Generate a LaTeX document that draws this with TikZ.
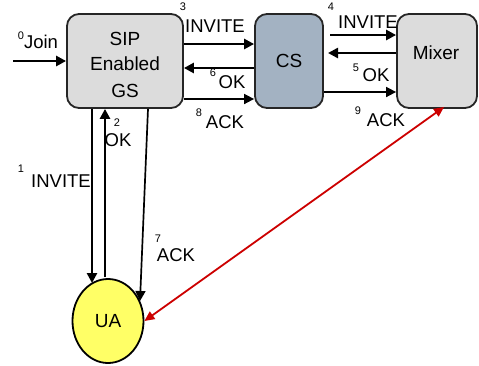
\documentclass[tikz,border=0pt]{standalone}
\usepackage{fontspec}
\setmainfont{Liberation Sans}
\usetikzlibrary{arrows.meta,shapes.geometric}
\definecolor{boxgray}{HTML}{DCDCDC}
\definecolor{csblue}{HTML}{A3B2C2}
\definecolor{uayellow}{HTML}{FFFF66}
\definecolor{redline}{HTML}{CC0000}
\begin{document}
\begin{tikzpicture}[x=1pt,y=-1pt,
  box/.style={draw=black!85,line width=1.8pt,rounded corners=12pt,align=center,
    font=\fontsize{19}{22}\selectfont,inner sep=0pt},
  lbl/.style={font=\fontsize{18.5}{21}\selectfont,inner sep=0pt},
  sup/.style={font=\fontsize{11}{12}\selectfont,inner sep=0pt},
  arr/.style={line width=2.5pt,-{Triangle[length=10pt,width=10pt]}},
  thinarr/.style={line width=1.7pt,-{Triangle[length=10pt,width=10pt]}}]
\useasboundingbox (0,0) rectangle (479,365);
% nodes
\node[box,fill=boxgray,minimum width=116pt,minimum height=94pt] (gs) at (125,61) {};
\node[lbl,font=\fontsize{19}{22}\selectfont] (gst1) at (125,39) {SIP};
\node[lbl,font=\fontsize{19}{22}\selectfont] (gst2) at (125,64) {Enabled};
\node[lbl,font=\fontsize{19}{22}\selectfont] (gst3) at (125,91) {GS};
\node[box,fill=csblue,minimum width=68pt,minimum height=94pt] (cs) at (289,61) {CS};
\node[box,fill=boxgray,minimum width=80pt,minimum height=94pt] (mx) at (437,61) {};
\node[lbl,font=\fontsize{19}{22}\selectfont] (mxt) at (436,53) {Mixer};
\node[draw=black,line width=1.8pt,fill=uayellow,ellipse,minimum width=71pt,minimum height=84pt,
  font=\fontsize{19}{22}\selectfont,inner sep=0pt] (ua) at (108,321) {UA};
\coordinate (start) at (13,61);
% connectors
\draw[arr] (start) -- (start -| gs.west);
\draw[line width=2.8pt,-{Triangle[length=10pt,width=10pt]}] (gs.east |- 0,44) -- (cs.west |- 0,44);
\draw[arr] (cs.west |- 0,68) -- (gs.east |- 0,68);
\draw[thinarr] (gs.east |- 0,99) -- (cs.west |- 0,99);
\draw[arr] (330,35) -- (mx.west |- 0,35);
\draw[line width=2.8pt,-{Triangle[length=10pt,width=10pt]}] (mx.west |- 0,53) -- (328,53);
\draw[thinarr] (cs.east |- 0,92) -- (mx.west |- 0,92);
\draw[arr] (92,0 |- gs.south) -- (92,283);
\draw[arr] (105,277) -- (105,0 |- gs.south);
\draw[thinarr] (148,0 |- gs.south) -- (140,301);
\draw[redline,line width=1.8pt,{Triangle[length=10pt,width=9pt]}-{Triangle[length=10pt,width=9pt]}] (444,107) -- (ua.east);
% labels
\node[sup] (s0) at (21,36) {0};
\node[lbl] (l0) at (41,42) {Join};
\node[sup] (s3) at (183,7) {3};
\node[lbl] (l3) at (215,26) {INVITE};
\node[sup] (s6) at (213,73) {6};
\node[lbl] (l6) at (232,82) {OK};
\node[sup] (s8) at (199,113) {8};
\node[lbl] (l8) at (225,122) {ACK};
\node[sup] (s4) at (331,7) {4};
\node[lbl] (l4) at (368,22) {INVITE};
\node[sup] (s5) at (356,68) {5};
\node[lbl] (l5) at (376,75) {OK};
\node[sup] (s9) at (358,111) {9};
\node[lbl] (l9) at (386,120) {ACK};
\node[sup] (s1) at (21,169) {1};
\node[lbl] (l1) at (61,181) {INVITE};
\node[sup] (s2) at (117,123) {2};
\node[lbl] (l2) at (118,140) {OK};
\node[sup] (s7) at (158,239) {7};
\node[lbl] (l7) at (176,255) {ACK};
\end{tikzpicture}
\end{document}
